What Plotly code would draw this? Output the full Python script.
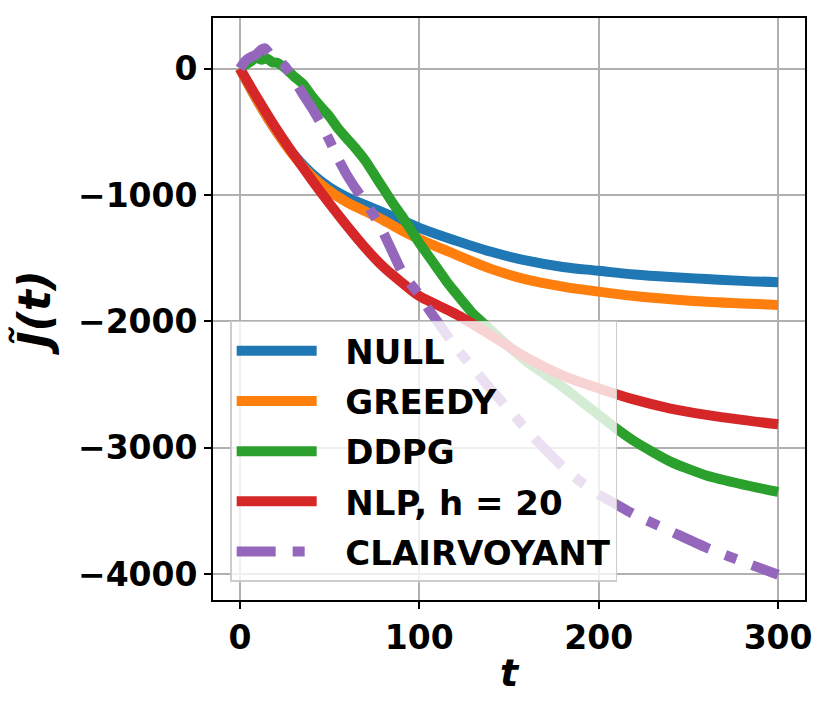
import plotly.graph_objects as go

# ---- data ----
t_null = [0, 10, 20, 30, 40, 50, 60, 70, 80, 90, 100, 120, 140, 160, 180, 200, 220, 240, 260, 280, 300]
j_null = [0, -260, -490, -680, -830, -940, -1020, -1080, -1140, -1200, -1260, -1360, -1450, -1520,
          -1570, -1600, -1630, -1650, -1665, -1680, -1690]

t_greedy = [0, 10, 20, 30, 40, 50, 60, 70, 80, 90, 100, 120, 140, 160, 180, 200, 220, 240, 260, 280, 300]
j_greedy = [0, -260, -490, -690, -850, -970, -1060, -1130, -1200, -1280, -1350, -1470, -1585, -1670,
            -1725, -1765, -1800, -1825, -1845, -1858, -1870]

t_ddpg = [0, 3, 6, 9, 12, 15, 18, 21, 25, 30, 35, 40, 45, 50, 55, 60, 65, 70, 75, 80, 85, 90, 95,
          100, 105, 110, 115, 120, 130, 140, 150, 160, 170, 180, 190, 200, 210, 220, 240, 260, 280, 300]
j_ddpg = [0, 30, 55, 85, 70, 80, 50, 45, 5, -60, -120, -215, -300, -380, -480, -560, -640, -730,
          -840, -950, -1060, -1160, -1270, -1380, -1480, -1580, -1680, -1770, -1940, -2070, -2200,
          -2320, -2420, -2520, -2630, -2740, -2850, -2950, -3110, -3220, -3290, -3350]

t_nlp = [0, 10, 20, 30, 40, 50, 60, 70, 80, 90, 100, 110, 120, 140, 160, 180, 200, 220, 240, 260, 280, 300]
j_nlp = [0, -240, -470, -680, -880, -1070, -1250, -1420, -1570, -1690, -1800, -1870, -1940, -2110,
         -2290, -2430, -2530, -2620, -2690, -2740, -2780, -2815]

t_clair = [0, 3, 6, 9, 12, 14, 17, 20, 25, 30, 35, 40, 45, 50, 55, 60, 65, 70, 75, 80, 85, 90, 95,
           100, 105, 110, 120, 130, 140, 150, 160, 170, 180, 190, 200, 210, 220, 240, 260, 280, 300]
j_clair = [0, 60, 90, 110, 150, 160, 110, 80, 20, -80, -200, -310, -430, -570, -720, -850, -960,
           -1060, -1170, -1300, -1450, -1600, -1700, -1790, -1900, -2000, -2200, -2370, -2540, -2700,
           -2860, -3010, -3150, -3270, -3370, -3450, -3530, -3660, -3790, -3900, -4005]

y_ticks = [0, -1000, -2000, -3000, -4000]
x_ticks = [0, 100, 200, 300]

FONT = "DejaVu Sans"
PAD = "\u00a0\u00a0"  # gap between legend line and label

fig = go.Figure()

fig.add_trace(go.Scatter(x=t_null, y=j_null, mode="lines", name=PAD + "NULL", legendgroup="a",
                         line=dict(color="#1f77b4", width=10, shape="spline")))
fig.add_trace(go.Scatter(x=t_greedy, y=j_greedy, mode="lines", name=PAD + "GREEDY", legendgroup="b",
                         line=dict(color="#ff7f0e", width=10, shape="spline")))
fig.add_trace(go.Scatter(x=t_ddpg, y=j_ddpg, mode="lines", name=PAD + "DDPG", legendgroup="c",
                         line=dict(color="#2ca02c", width=10, shape="spline", smoothing=0.6)))
fig.add_trace(go.Scatter(x=t_nlp, y=j_nlp, mode="lines", name=PAD + "NLP, h = 20", legendgroup="d",
                         line=dict(color="#d62728", width=10, shape="spline")))
fig.add_trace(go.Scatter(x=t_clair, y=j_clair, mode="lines", name=PAD + "CLAIRVOYANT", legendgroup="e",
                         line=dict(color="#9467bd", width=10, dash="39px,17px,12px,17px",
                                   shape="spline", smoothing=0.6)))

axis_common = dict(
    showgrid=True, gridcolor="#b0b0b0", gridwidth=1.5,
    showline=True, linecolor="black", linewidth=1.8, mirror=True,
    ticks="outside", ticklen=7, tickwidth=1.5, tickcolor="black",
    tickfont=dict(family=FONT, size=33, color="black", weight="bold"),
    zeroline=False,
)

fig.update_xaxes(range=[-15, 315], tickvals=x_ticks,
                 title=dict(text="t", standoff=4,
                            font=dict(family=FONT, size=38, color="black",
                                      weight="bold", style="italic")),
                 **axis_common)
fig.update_yaxes(range=[-4205, 400], tickvals=y_ticks,
                 title=dict(text="J̃(t)", standoff=14,
                            font=dict(family=FONT, size=44, color="black",
                                      weight="bold", style="italic")),
                 **axis_common)

# page body adds an 8px margin, so the figure is sized to sit inside the window
fig.update_layout(
    width=816, height=698,
    margin=dict(l=205, r=19, t=8, b=106),
    paper_bgcolor="white", plot_bgcolor="white",
    showlegend=True,
    legend=dict(
        x=0.029, y=0.48, xanchor="left", yanchor="top",
        bgcolor="rgba(255,255,255,0.8)", bordercolor="#cccccc", borderwidth=1.5,
        font=dict(family=FONT, size=34, color="black", weight="bold"),
        itemwidth=80, tracegroupgap=3,
    ),
)

fig.write_html("out.html")
